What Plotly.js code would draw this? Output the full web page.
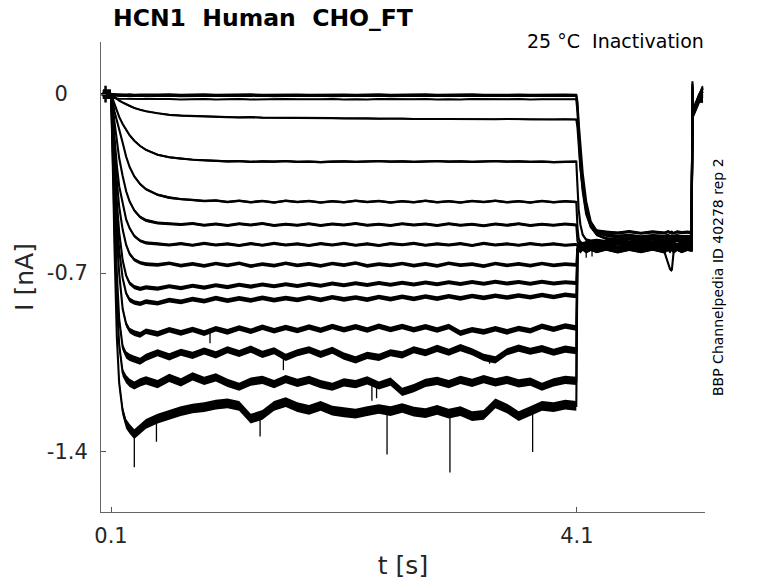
<!DOCTYPE html>
<html>
<head>
<meta charset="utf-8">
<script src="https://cdn.plot.ly/plotly-3.0.1.min.js"></script>
<style>html,body{margin:0;padding:0;background:#fff;}#chart{width:778px;height:583px;}</style>
</head>
<body>
<div id="chart"></div>
<script>
// time grid [s]: prepulse part and test/tail part
const tPre = [0.03,0.099,0.102,0.106,0.11,0.115,0.12,0.13,0.14,0.15,
  0.17,0.2,0.23,0.26,0.3,0.35,0.4,0.5,0.6,0.7,
  0.8,0.9,1.0,1.1,1.2,1.3,1.4,1.5,1.6,1.7,
  1.8,1.9,2.0,2.1,2.2,2.3,2.4,2.5,2.6,2.7,
  2.8,2.9,3.0,3.1,3.2,3.3,3.4,3.5,3.6,3.7,
  3.8,3.9,4.0,4.095];
const tPost = [4.105,4.115,4.13,4.15,4.18,4.22,4.27,4.35,4.45,4.55,
  4.65,4.75,4.85,4.885,4.9,4.915,4.93,4.96,5.0,5.05,
  5.085,5.092,5.1,5.12,5.15,5.18];

// current traces [nA]
const iA1 = [0.001,0,-0.001,-0.002,-0.002,-0.003,-0.002,-0.003,-0.002,-0.003,
  -0.002,-0.003,-0.002,-0.001,-0.003,-0.002,-0.003,-0.002,-0.001,-0.003,
  -0.002,-0.001,-0.003,-0.002,-0.002,-0.001,-0.003,-0.002,-0.001,-0.002,
  -0.003,-0.002,-0.001,-0.002,-0.003,-0.002,-0.001,-0.003,-0.002,-0.002,
  -0.001,-0.003,-0.002,-0.002,-0.001,-0.003,-0.002,-0.001,-0.002,-0.003,
  -0.002,-0.001,-0.002,-0.003,
  -0.03,-0.11,-0.21,-0.31,-0.42,-0.50,-0.535,-0.55,-0.555,-0.552,
  -0.558,-0.553,-0.556,-0.552,-0.557,-0.554,-0.556,-0.553,-0.557,-0.555,
  -0.556,0.04,-0.07,-0.04,-0.005,0.03];
const iA2 = [0,0,-0.002,-0.004,-0.005,-0.006,-0.005,-0.006,-0.007,-0.006,
  -0.007,-0.006,-0.007,-0.008,-0.007,-0.006,-0.008,-0.007,-0.006,-0.008,
  -0.007,-0.008,-0.006,-0.007,-0.008,-0.007,-0.006,-0.008,-0.007,-0.008,
  -0.007,-0.006,-0.008,-0.007,-0.008,-0.007,-0.006,-0.008,-0.007,-0.007,
  -0.008,-0.006,-0.007,-0.008,-0.007,-0.006,-0.008,-0.007,-0.008,-0.007,
  -0.006,-0.008,-0.007,-0.007,
  -0.05,-0.14,-0.25,-0.35,-0.45,-0.515,-0.54,-0.552,-0.56,-0.556,
  -0.562,-0.557,-0.561,-0.556,-0.56,-0.558,-0.562,-0.557,-0.56,-0.558,
  -0.56,-0.02,-0.075,-0.045,-0.015,0.01];
const iA3 = [0,0,-0.004,-0.008,-0.011,-0.013,-0.014,-0.016,-0.017,-0.017,
  -0.018,-0.018,-0.019,-0.018,-0.019,-0.02,-0.019,-0.02,-0.019,-0.021,
  -0.02,-0.019,-0.021,-0.02,-0.019,-0.021,-0.02,-0.021,-0.019,-0.02,
  -0.021,-0.02,-0.019,-0.021,-0.02,-0.021,-0.019,-0.02,-0.021,-0.02,
  -0.019,-0.021,-0.02,-0.021,-0.019,-0.02,-0.021,-0.02,-0.019,-0.021,
  -0.02,-0.021,-0.02,-0.02,
  -0.07,-0.17,-0.28,-0.38,-0.47,-0.52,-0.535,-0.54,-0.543,-0.538,
  -0.544,-0.539,-0.543,-0.538,-0.542,-0.54,-0.544,-0.539,-0.542,-0.54,
  -0.542,-0.03,-0.08,-0.055,-0.025,-0.01];
const iB = [0,0,-0.001,-0.002,-0.004,-0.006,-0.008,-0.011,-0.015,-0.018,
  -0.025,-0.033,-0.040,-0.047,-0.054,-0.061,-0.067,-0.075,-0.081,-0.084,
  -0.086,-0.088,-0.089,-0.090,-0.091,-0.090,-0.092,-0.092,-0.093,-0.092,
  -0.093,-0.094,-0.094,-0.095,-0.094,-0.095,-0.096,-0.095,-0.096,-0.097,
  -0.096,-0.097,-0.097,-0.098,-0.097,-0.098,-0.098,-0.097,-0.098,-0.099,
  -0.098,-0.099,-0.098,-0.099,
  -0.13,-0.20,-0.29,-0.37,-0.46,-0.52,-0.55,-0.565,-0.57,-0.566,
  -0.572,-0.567,-0.571,-0.566,-0.57,-0.568,-0.572,-0.567,-0.57,-0.568,
  -0.57,0.0,-0.065,-0.035,0.0,0.02];
const iC = [0,0,-0.003,-0.008,-0.014,-0.021,-0.028,-0.042,-0.055,-0.067,
  -0.089,-0.117,-0.141,-0.161,-0.182,-0.203,-0.218,-0.237,-0.247,-0.253,
  -0.257,-0.259,-0.261,-0.263,-0.262,-0.265,-0.263,-0.264,-0.262,-0.265,
  -0.264,-0.266,-0.264,-0.263,-0.265,-0.264,-0.262,-0.264,-0.263,-0.265,
  -0.264,-0.262,-0.264,-0.263,-0.265,-0.264,-0.262,-0.264,-0.263,-0.265,
  -0.264,-0.266,-0.265,-0.264,
  -0.36,-0.45,-0.51,-0.55,-0.57,-0.575,-0.572,-0.577,-0.573,-0.578,
  -0.574,-0.578,-0.573,-0.577,-0.574,-0.578,-0.575,-0.573,-0.578,-0.575,
  -0.576,-0.04,-0.07,-0.045,-0.02,0.0];
const iD = [0,0,-0.004,-0.011,-0.021,-0.033,-0.045,-0.068,-0.087,-0.105,
  -0.14,-0.19,-0.245,-0.285,-0.322,-0.352,-0.372,-0.394,-0.405,-0.411,
  -0.414,-0.418,-0.416,-0.422,-0.417,-0.423,-0.418,-0.424,-0.417,-0.422,
  -0.418,-0.424,-0.419,-0.423,-0.417,-0.422,-0.418,-0.424,-0.419,-0.423,
  -0.417,-0.423,-0.419,-0.424,-0.418,-0.422,-0.417,-0.423,-0.419,-0.424,
  -0.418,-0.423,-0.419,-0.422,
  -0.52,-0.565,-0.58,-0.585,-0.581,-0.586,-0.582,-0.587,-0.583,-0.586,
  -0.582,-0.587,-0.583,-0.586,-0.582,-0.585,-0.583,-0.587,-0.582,-0.586,
  -0.584,0.02,-0.075,-0.05,-0.02,-0.02];
const iE = [0,0,-0.006,-0.017,-0.03,-0.05,-0.07,-0.11,-0.15,-0.185,
  -0.25,-0.32,-0.38,-0.42,-0.455,-0.481,-0.494,-0.504,-0.508,-0.51,
  -0.506,-0.513,-0.508,-0.514,-0.507,-0.512,-0.506,-0.514,-0.509,-0.513,
  -0.507,-0.514,-0.508,-0.512,-0.506,-0.513,-0.509,-0.514,-0.507,-0.512,
  -0.508,-0.514,-0.507,-0.513,-0.509,-0.515,-0.508,-0.513,-0.507,-0.514,
  -0.509,-0.513,-0.508,-0.512,
  -0.575,-0.588,-0.584,-0.59,-0.585,-0.591,-0.586,-0.59,-0.584,-0.591,
  -0.586,-0.59,-0.585,-0.591,-0.586,-0.589,-0.585,-0.591,-0.587,-0.59,
  -0.588,-0.01,-0.08,-0.05,-0.02,-0.03];
const iF = [0,0,-0.008,-0.024,-0.045,-0.075,-0.105,-0.17,-0.23,-0.28,
  -0.36,-0.43,-0.49,-0.525,-0.555,-0.574,-0.582,-0.586,-0.59,-0.585,
  -0.591,-0.584,-0.59,-0.586,-0.592,-0.585,-0.591,-0.584,-0.59,-0.586,
  -0.592,-0.585,-0.59,-0.584,-0.591,-0.586,-0.592,-0.585,-0.589,-0.584,
  -0.591,-0.586,-0.59,-0.585,-0.592,-0.584,-0.59,-0.586,-0.591,-0.585,
  -0.59,-0.586,-0.591,-0.588,
  -0.594,-0.59,-0.596,-0.591,-0.597,-0.592,-0.596,-0.59,-0.597,-0.592,
  -0.596,-0.591,-0.597,-0.592,-0.596,-0.591,-0.597,-0.592,-0.596,-0.591,
  -0.595,0.01,-0.07,-0.045,-0.015,0.01];
const iG = [0,0,-0.01,-0.03,-0.055,-0.09,-0.13,-0.21,-0.28,-0.34,
  -0.44,-0.53,-0.59,-0.625,-0.648,-0.66,-0.665,-0.668,-0.662,-0.671,
  -0.664,-0.672,-0.663,-0.67,-0.662,-0.673,-0.665,-0.671,-0.662,-0.67,
  -0.664,-0.672,-0.663,-0.669,-0.661,-0.672,-0.665,-0.67,-0.663,-0.671,
  -0.664,-0.672,-0.662,-0.669,-0.665,-0.673,-0.663,-0.67,-0.664,-0.671,
  -0.663,-0.67,-0.665,-0.668,
  -0.6,-0.594,-0.6,-0.593,-0.599,-0.594,-0.6,-0.593,-0.6,-0.594,
  -0.599,-0.593,-0.6,-0.594,-0.599,-0.593,-0.6,-0.594,-0.599,-0.593,
  -0.597,-0.01,-0.075,-0.05,-0.02,-0.01];
const iH = [0,0,-0.012,-0.04,-0.07,-0.115,-0.165,-0.26,-0.345,-0.42,
  -0.54,-0.65,-0.71,-0.74,-0.755,-0.762,-0.756,-0.761,-0.752,-0.759,
  -0.75,-0.757,-0.748,-0.755,-0.746,-0.753,-0.745,-0.752,-0.744,-0.751,
  -0.743,-0.75,-0.741,-0.748,-0.74,-0.747,-0.739,-0.746,-0.738,-0.745,
  -0.737,-0.744,-0.736,-0.743,-0.735,-0.742,-0.734,-0.741,-0.735,-0.742,
  -0.734,-0.741,-0.736,-0.739,
  -0.604,-0.597,-0.603,-0.596,-0.603,-0.597,-0.604,-0.596,-0.603,-0.597,
  -0.603,-0.596,-0.604,-0.597,-0.603,-0.596,-0.604,-0.597,-0.603,-0.597,
  -0.6,-0.02,-0.08,-0.055,-0.025,-0.02];
const iI = [0,0,-0.014,-0.045,-0.08,-0.13,-0.19,-0.30,-0.40,-0.48,
  -0.61,-0.72,-0.78,-0.805,-0.815,-0.82,-0.812,-0.818,-0.806,-0.813,
  -0.802,-0.81,-0.798,-0.808,-0.799,-0.807,-0.797,-0.806,-0.798,-0.805,
  -0.796,-0.805,-0.795,-0.803,-0.796,-0.804,-0.794,-0.802,-0.793,-0.801,
  -0.792,-0.8,-0.791,-0.799,-0.79,-0.797,-0.789,-0.796,-0.788,-0.795,
  -0.786,-0.794,-0.785,-0.79,
  -0.607,-0.6,-0.606,-0.599,-0.607,-0.6,-0.606,-0.599,-0.607,-0.6,
  -0.606,-0.599,-0.607,-0.6,-0.606,-0.599,-0.607,-0.6,-0.606,-0.6,
  -0.603,0.03,-0.065,-0.04,-0.01,0.02];
const iJ = [0,0,-0.016,-0.05,-0.09,-0.15,-0.22,-0.35,-0.47,-0.56,
  -0.70,-0.84,-0.90,-0.925,-0.935,-0.942,-0.928,-0.938,-0.922,-0.934,
  -0.921,-0.935,-0.918,-0.93,-0.915,-0.928,-0.912,-0.926,-0.913,-0.925,
  -0.911,-0.924,-0.909,-0.922,-0.91,-0.923,-0.908,-0.921,-0.909,-0.922,
  -0.91,-0.923,-0.909,-0.935,-0.922,-0.93,-0.918,-0.93,-0.917,-0.926,
  -0.908,-0.92,-0.907,-0.915,
  -0.61,-0.602,-0.609,-0.601,-0.61,-0.602,-0.609,-0.601,-0.61,-0.602,
  -0.609,-0.601,-0.61,-0.602,-0.609,-0.601,-0.61,-0.602,-0.609,-0.602,
  -0.605,-0.03,-0.075,-0.05,-0.02,-0.005];
const iK = [0,0,-0.018,-0.06,-0.11,-0.18,-0.27,-0.43,-0.58,-0.70,
  -0.88,-0.99,-1.02,-1.03,-1.038,-1.045,-1.03,-1.012,-1.028,-1.01,
  -1.022,-1.005,-1.02,-1.0,-1.015,-0.998,-1.018,-1.004,-1.03,-1.012,
  -1.0,-1.018,-1.002,-1.025,-1.04,-1.022,-1.03,-1.012,-1.02,-1.0,
  -1.012,-0.995,-1.01,-0.992,-1.008,-1.03,-1.04,-1.008,-0.994,-1.006,
  -0.996,-1.01,-0.998,-1.004,
  -0.613,-0.604,-0.612,-0.603,-0.613,-0.604,-0.612,-0.603,-0.613,-0.604,
  -0.612,-0.603,-0.613,-0.604,-0.612,-0.603,-0.613,-0.604,-0.612,-0.604,
  -0.608,-0.04,-0.085,-0.06,-0.03,-0.025];
const iL = [0,0,-0.02,-0.07,-0.13,-0.22,-0.32,-0.52,-0.68,-0.81,
  -0.98,-1.09,-1.115,-1.13,-1.14,-1.128,-1.12,-1.135,-1.11,-1.128,
  -1.104,-1.122,-1.108,-1.13,-1.145,-1.125,-1.118,-1.135,-1.115,-1.13,
  -1.118,-1.135,-1.145,-1.128,-1.135,-1.12,-1.14,-1.125,-1.165,-1.15,
  -1.13,-1.122,-1.135,-1.118,-1.13,-1.115,-1.128,-1.118,-1.132,-1.125,
  -1.145,-1.128,-1.118,-1.122,
  -0.615,-0.606,-0.614,-0.605,-0.615,-0.606,-0.614,-0.605,-0.615,-0.606,
  -0.614,-0.605,-0.615,-0.665,-0.685,-0.69,-0.62,-0.606,-0.614,-0.606,
  -0.61,0.05,-0.07,-0.04,-0.01,0.025];
const iM = [0,0,-0.022,-0.08,-0.15,-0.25,-0.37,-0.60,-0.79,-0.95,
  -1.13,-1.24,-1.29,-1.31,-1.33,-1.31,-1.29,-1.27,-1.255,-1.24,
  -1.23,-1.225,-1.215,-1.21,-1.22,-1.27,-1.255,-1.22,-1.205,-1.225,
  -1.235,-1.22,-1.238,-1.245,-1.25,-1.24,-1.232,-1.24,-1.228,-1.242,
  -1.248,-1.235,-1.25,-1.24,-1.26,-1.255,-1.21,-1.23,-1.26,-1.24,
  -1.22,-1.225,-1.215,-1.22,
  -0.618,-0.608,-0.617,-0.607,-0.618,-0.608,-0.617,-0.607,-0.618,-0.608,
  -0.617,-0.607,-0.618,-0.608,-0.617,-0.607,-0.618,-0.608,-0.617,-0.608,
  -0.612,0.01,-0.08,-0.05,-0.02,-0.03];

// half-width of the recording-noise band of each trace [nA]
const noisePre  = [0.002, 0.002, 0.002, 0.003, 0.004, 0.005, 0.006, 0.006, 0.007, 0.008, 0.009, 0.011, 0.014, 0.016, 0.019];
const noiseTest = 0.006;

// sharp downward noise spikes: time, level before spike, spike tip
const spikeT    = [0.30, 0.49, 1.38, 2.47, 3.01, 3.72, 0.95, 1.58, 3.35, 2.34, 2.38, 4.18, 4.23];
const spikeBase = [-1.32, -1.26, -1.25, -1.24, -1.25, -1.24, -0.925, -1.02, -1.02, -1.125, -1.125, -0.61, -0.61];
const spikeTip  = [-1.46, -1.36, -1.34, -1.41, -1.48, -1.40, -0.975, -1.08, -1.055, -1.20, -1.19, -0.64, -0.635];

// start marker
const startT = [0.053];
const startI = [0];

const xTicks = [0.1, 4.1];
const xTickText = ['0.1', '4.1'];
const yTicks = [0, -0.7, -1.4];
const yTickText = ['0\u2007\u2008', '-0.7', '-1.4'];

const series = [
  ['A1', iA1], ['A2', iA2], ['A3', iA3], ['B', iB], ['C', iC], ['D', iD], ['E', iE],
  ['F', iF], ['G', iG], ['H', iH], ['I', iI], ['J', iJ], ['K', iK], ['L', iL], ['M', iM]
];

const tAll = tPre.concat(tPost);
const nPre = tPre.length;
const data = [];
const warn = [];
series.forEach(function (s, k) {
  const vals = s[1];
  if (vals.length !== tAll.length) warn.push(s[0] + ':' + vals.length);
  const w = vals.map(function (v, j) { return j < nPre ? noisePre[k] : noiseTest; });
  const upper = vals.map(function (v, j) { return v + w[j]; });
  const lower = vals.map(function (v, j) { return v - w[j]; });
  data.push({
    type: 'scatter', mode: 'lines',
    x: tAll.concat(tAll.slice().reverse()),
    y: upper.concat(lower.slice().reverse()),
    fill: 'toself', fillcolor: '#000', line: {width: 0, color: 'rgba(0,0,0,0)'},
    hoverinfo: 'skip', showlegend: false
  });
  data.push({
    type: 'scatter', mode: 'lines', x: tAll, y: vals,
    line: {color: '#000', width: 2.1}, hoverinfo: 'skip', showlegend: false
  });
});

const sx = [], sy = [];
spikeT.forEach(function (t, k) { sx.push(t, t, null); sy.push(spikeBase[k], spikeTip[k], null); });
data.push({type: 'scatter', mode: 'lines', x: sx, y: sy, line: {color: '#000', width: 1.3},
  hoverinfo: 'skip', showlegend: false, connectgaps: false});
data.push({type: 'scatter', mode: 'markers', x: startT, y: startI,
  marker: {symbol: 'cross-thin', size: 12, line: {color: '#000', width: 2.5}},
  hoverinfo: 'skip', showlegend: false});

const FONT = 'DejaVu Sans, Verdana, sans-serif';
const annotations = [
  {text: '25 \u00b0C\u00a0\u00a0Inactivation', xref: 'paper', yref: 'paper', x: 1.0, xshift: 1, y: 1.003,
   xanchor: 'right', yanchor: 'middle', showarrow: false, font: {family: FONT, size: 19, color: '#000'}},
  {text: 'BBP Channelpedia ID 40278 rep 2', xref: 'paper', yref: 'paper', x: 1.0, xshift: 13, y: 0.5,
   xanchor: 'center', yanchor: 'middle', textangle: -90, showarrow: false,
   font: {family: FONT, size: 14, color: '#000'}}
];
if (warn.length) annotations.push({text: 'LEN ' + warn.join(' '), xref: 'paper', yref: 'paper', x: 0.5, y: 0.5, showarrow: false, font: {color: 'red', size: 20}});

const layout = {
  width: 778, height: 583,
  margin: {l: 101, r: 73, t: 42, b: 71},
  paper_bgcolor: '#fff', plot_bgcolor: '#fff',
  showlegend: false,
  title: {text: '<b>HCN1\u00a0\u00a0Human\u00a0\u00a0CHO_FT</b>', x: 113 / 778, xanchor: 'left',
          y: 1 - 18 / 583, yanchor: 'middle', font: {family: FONT, size: 23.5, color: '#000'}},
  xaxis: {
    range: [0.014, 5.2], tickmode: 'array', tickvals: xTicks, ticktext: xTickText,
    ticks: 'inside', ticklen: 5, tickwidth: 1, tickcolor: '#555',
    showline: true, linecolor: '#666', linewidth: 1, mirror: false,
    showgrid: false, zeroline: false, automargin: false,
    tickfont: {family: FONT, size: 21, color: '#262626'}, ticklabelstandoff: 5,
    title: {text: 't [s]', font: {family: FONT, size: 25, color: '#262626'}, standoff: 9}
  },
  yaxis: {
    range: [-1.635, 0.204], tickmode: 'array', tickvals: yTicks, ticktext: yTickText,
    ticks: 'inside', ticklen: 5, tickwidth: 1, tickcolor: '#555',
    showline: true, linecolor: '#666', linewidth: 1, mirror: false,
    showgrid: false, zeroline: false, automargin: false,
    tickfont: {family: FONT, size: 21, color: '#262626'}, ticklabelstandoff: 8,
    title: {text: 'I [nA]', font: {family: FONT, size: 25, color: '#262626'}, standoff: 6}
  },
  annotations: annotations
};

Plotly.newPlot('chart', data, layout, {displayModeBar: false, staticPlot: true});
</script>
</body>
</html>
